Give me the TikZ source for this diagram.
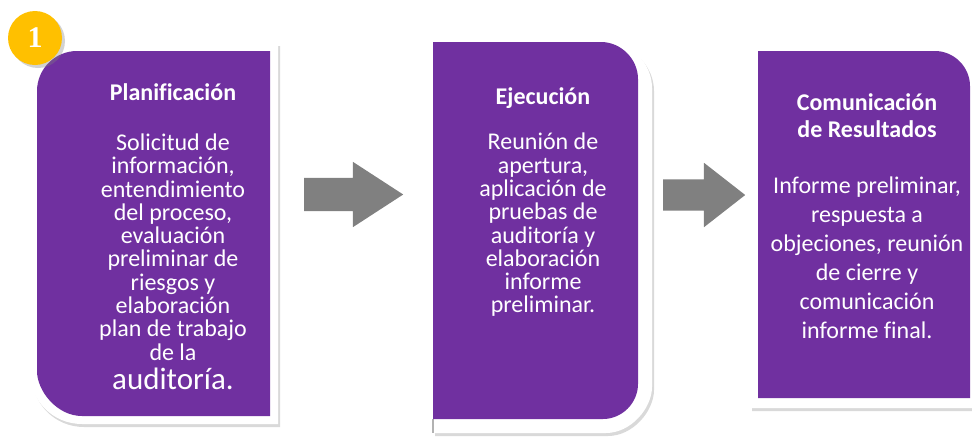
\documentclass[tikz,border=0pt]{standalone}
\usepackage{fontspec}
\setmainfont{Carlito}[Ligatures=CommonOff]
\newfontfamily\numfont{Liberation Serif}
\usetikzlibrary{shapes.arrows,shadows}
\definecolor{boxpurple}{HTML}{7030A0}
\definecolor{arrowgray}{HTML}{808080}
\definecolor{gold}{HTML}{FFC000}
\newcommand\tightlines{\lineskiplimit=-30pt\relax}

\begin{document}
\begin{tikzpicture}
      [x=1pt, y=-1pt,
       txt/.style={text=white, align=center, inner sep=0pt},
       title/.style={txt, font=\bfseries\fontsize{24}{27}\selectfont\tightlines},
       body/.style={txt, font=\fontsize{24}{23.3}\selectfont\tightlines},
       frame/.style={fill=white, drop shadow={opacity=0.3, shadow xshift=2pt, shadow yshift=-3pt}},
       flecha/.style={single arrow, anchor=tail, fill=arrowgray, inner sep=0pt, text height=16.5pt, text depth=16.5pt, single arrow head extend=16pt}]
      \clip (0,0) rectangle (972,440);
      % white frames
      \path[frame] (278,43) -- (278,424) -- (82,424) .. controls (53,424) and (30,401) .. (30,372)
        -- (30,90) .. controls (30,64) and (51,43) .. (77,43) -- cycle;
      \path[frame] (433,42) -- (606,42) .. controls (631,42) and (652,63) .. (652,88)
        -- (652,387) .. controls (652,408) and (631,433) .. (606,433) -- (433,433) -- cycle;
      \path[frame] (750,42) -- (960,42) -- (980,62) -- (980,408) -- (750,408) -- cycle;
      \draw[gray!60, line width=1.2pt] (433,419) -- (433,433);
      % purple boxes
      \fill[boxpurple] (270,51) -- (270,416) -- (82,416) .. controls (57,416) and (37,391) .. (37,371)
        -- (37,91) .. controls (37,69) and (55,51) .. (77,51) -- cycle;
      \fill[boxpurple] (433,42) -- (601,42) .. controls (621,42) and (638,59) .. (638,79)
        -- (638,384) .. controls (638,403) and (622,419) .. (603,419) -- (433,419) -- cycle;
      \fill[boxpurple] (758,51) -- (935,51) .. controls (954,51) and (970,67) .. (970,86)
        -- (970,398) -- (758,398) -- cycle;
      % arrows
      \node(a1) [flecha, minimum height=99pt, single arrow tip angle=66] at (304,194.5) {};
      \node(a2) [flecha, text height=15.5pt, text depth=15.5pt, minimum height=82pt,
        single arrow head extend=16.5pt, single arrow tip angle=76] at (663,195) {};
      % step number
      \node(n1) [circle, fill=gold, minimum size=54pt, inner sep=0pt, text=white,
        font=\numfont\bfseries\fontsize{30}{30}\selectfont,
        drop shadow={opacity=0.35, shadow xshift=3pt, shadow yshift=-3pt}] at (35,38) {1};
      % texts
      \node(t1) [title, anchor=base] at (173,100) {Planificación};
      \node(b1) [body] at (173,247) {Solicitud de\\información,\\entendimiento\\del proceso,\\evaluación\\preliminar de\\riesgos y\\elaboración\\plan de trabajo\\de la};
      \node(c1) [txt, anchor=base, font=\fontsize{31}{31}\selectfont] at (173,389) {auditoría.};
      \node(t2) [title, anchor=base] at (543,104) {Ejecución};
      \node(b2) [body] at (543,225) {Reunión de\\apertura,\\aplicación de\\pruebas de\\auditoría y\\elaboración\\informe\\preliminar.};
      \node(t3) [title] at (867,116) {Comunicación\\de Resultados};
      \node(b3) [body, font=\fontsize{24}{29}\selectfont\tightlines] at (867,258) {Informe preliminar,\\respuesta a\\objeciones, reunión\\de cierre y\\comunicación\\informe final.};
  \end{tikzpicture}
\end{document}
